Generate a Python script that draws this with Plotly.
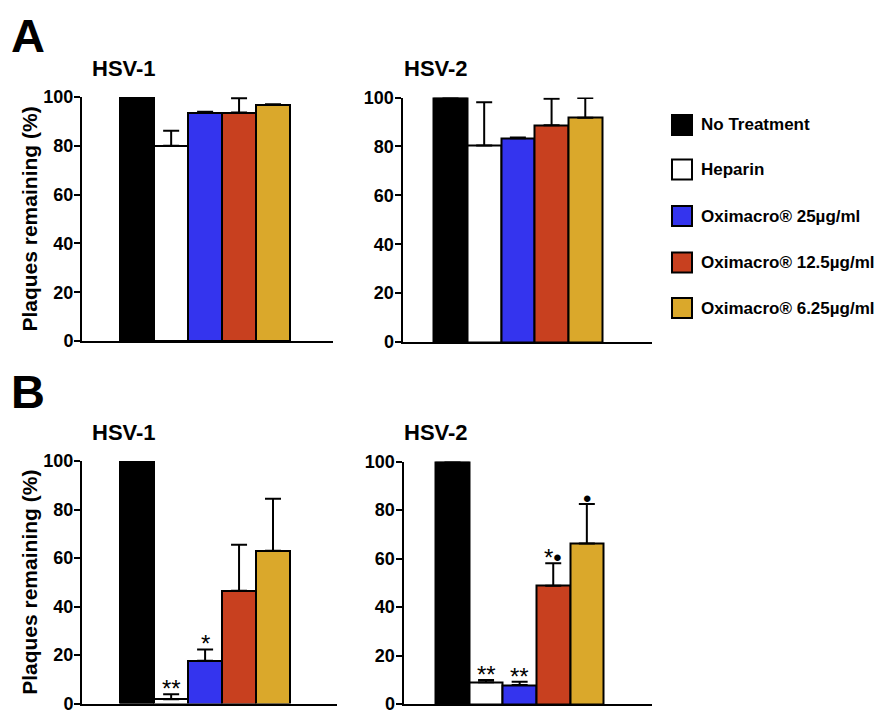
import plotly.graph_objects as go

W, H = 884, 715
OX, OY = 8, 8  # page body offset compensation

treatments = ["No Treatment", "Heparin", "Oximacro® 25µg/ml",
              "Oximacro® 12.5µg/ml", "Oximacro® 6.25µg/ml"]
colors = ["#000000", "#FFFFFF", "#3434EE", "#C8401F", "#DAA82B"]

# Panel A (top)
a_hsv1 = [100, 80, 93.6, 93.6, 96.7]
a_hsv1_err = [0, 6.2, 0.4, 5.9, 0.3]
a_hsv2 = [100, 80.4, 83.3, 88.7, 91.7]
a_hsv2_err = [0, 17.7, 0.3, 10.8, 8.1]
# Panel B (bottom)
b_hsv1 = [100, 1.8, 17.6, 46.5, 63.0]
b_hsv1_err = [0, 2.0, 4.7, 19.0, 21.4]
b_hsv2 = [100, 9.0, 7.8, 48.8, 66.2]
b_hsv2_err = [0, 0.9, 1.4, 9.2, 16.3]

b_hsv1_marks = ["", "**", "*", "", ""]
b_hsv2_marks = ["", "**", "**", "*•", "•"]

yticks = [0, 20, 40, 60, 80, 100]
FONT = "Liberation Sans, Arial, Helvetica, sans-serif"

def px(x):
    return (x - OX) / W

def py(y):
    return 1 - (y - OY) / H

panels = [
    # name, values, errs, marks, xdomain px, ydomain px (top,bottom), xrange, title x px, title y px, ytitle
    ("HSV-1", a_hsv1, a_hsv1_err, None, (82, 333), (97, 341), (-1.626, 5.767), 124, 68, True),
    ("HSV-2", a_hsv2, a_hsv2_err, None, (402.5, 652), (97.5, 342), (-1.424, 5.98), 436, 68, False),
    ("HSV-1", b_hsv1, b_hsv1_err, b_hsv1_marks, (82, 337), (461, 703.5), (-1.626, 5.885), 124, 432, True),
    ("HSV-2", b_hsv2, b_hsv2_err, b_hsv2_marks, (403.5, 652), (461.5, 704), (-1.458, 5.94), 436, 432, False),
]

fig = go.Figure()
annotations = []
layout = {}

for i, (name, vals, errs, marks, xd, yd, xr, tx, ty, ytitle) in enumerate(panels):
    n = "" if i == 0 else str(i + 1)
    xa, ya = "x" + n, "y" + n
    fig.add_trace(go.Bar(
        x=list(range(len(treatments))), y=vals,
        xaxis=xa, yaxis=ya,
        marker=dict(color=colors, line=dict(color="black", width=2)),
        error_y=dict(type="data", symmetric=False, array=errs,
                     arrayminus=[0] * len(errs), color="black",
                     thickness=2, width=8),
        width=1, showlegend=False, hoverinfo="skip",
    ))
    layout["xaxis" + n] = dict(
        domain=[px(xd[0]), px(xd[1])], range=list(xr), anchor=ya,
        showline=True, linewidth=2, linecolor="black",
        showticklabels=False, ticks="", showgrid=False, zeroline=False,
        fixedrange=True,
    )
    layout["yaxis" + n] = dict(
        domain=[py(yd[1]), py(yd[0])], range=[0, 100], anchor=xa,
        showline=True, linewidth=2, linecolor="black",
        tickvals=yticks, ticks="outside", ticklen=6, tickwidth=2,
        tickcolor="black", showgrid=False, zeroline=False,
        tickfont=dict(family=FONT, size=18, color="black", weight="bold"),
        ticklabelstandoff=-3,
        fixedrange=True,
    )
    if ytitle:
        layout["yaxis" + n]["title"] = dict(
            text="Plaques remaining (%)", standoff=0,
            font=dict(family=FONT, size=21, color="black", weight="bold"))
    # panel title
    annotations.append(dict(
        text=name, xref="paper", yref="paper",
        x=px(tx), y=py(ty),
        xanchor="center", yanchor="middle", showarrow=False,
        font=dict(family=FONT, size=22, color="black", weight="bold")))
    if marks:
        for k, m in enumerate(marks):
            if m:
                annotations.append(dict(
                    text=m, xref=xa, yref=ya, x=k, y=vals[k] + errs[k],
                    xanchor="center", yanchor="bottom", showarrow=False,
                    yshift=-10,
                    font=dict(family=FONT, size=24, color="black")))

# panel letters
for letter, ly in (("A", 36), ("B", 391)):
    annotations.append(dict(text=letter, xref="paper", yref="paper", x=px(9), y=py(ly),
                            xanchor="left", yanchor="middle", showarrow=False,
                            font=dict(family=FONT, size=47, color="black", weight="bold")))

# manual legend
shapes = []
leg_y = [125, 169.5, 216, 262.5, 308]
for t, c, yc in zip(treatments, colors, leg_y):
    shapes.append(dict(type="rect", xref="paper", yref="paper",
                       x0=px(672), x1=px(692), y0=py(yc + 10), y1=py(yc - 10),
                       fillcolor=c, line=dict(color="black", width=2)))
    annotations.append(dict(text=t, xref="paper", yref="paper", x=px(699), y=py(yc),
                            xanchor="left", yanchor="middle", showarrow=False,
                            font=dict(family=FONT, size=17, color="black", weight="bold")))

fig.update_layout(
    width=W, height=H,
    margin=dict(l=0, r=0, t=0, b=0, autoexpand=False),
    paper_bgcolor="white", plot_bgcolor="white",
    barmode="overlay", bargap=0,
    annotations=annotations, shapes=shapes,
    **layout,
)

fig.write_html("out.html")
